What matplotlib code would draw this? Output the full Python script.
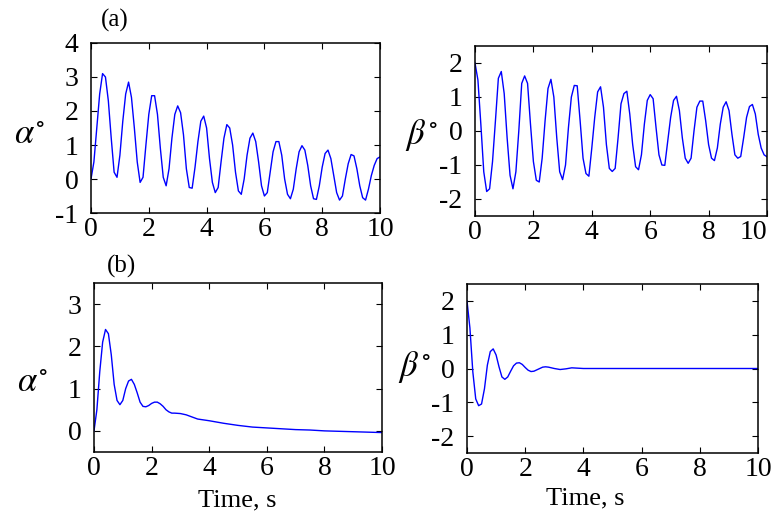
import numpy as np
import matplotlib
matplotlib.use('Agg')
import matplotlib.pyplot as plt

plt.rcParams['font.family'] = ['Liberation Serif', 'DejaVu Serif']
plt.rcParams['mathtext.fontset'] = 'stix'
plt.rcParams['axes.unicode_minus'] = False

# (a) 制御なし  0.1 s 刻み
t_a = [round(0.1 * i, 1) for i in range(101)]
alpha_a = [0.0, 0.5, 1.5, 2.5, 3.1, 3.0, 2.3, 1.2, 0.2, 0.05,
           0.7, 1.7, 2.5, 2.85, 2.4, 1.5, 0.5, -0.1, 0.05, 1.0,
           1.9, 2.45, 2.45, 1.9, 0.9, 0.05, -0.2, 0.3, 1.2, 1.9,
           2.15, 1.95, 1.3, 0.3, -0.25, -0.27, 0.35, 1.1, 1.7, 1.85,
           1.5, 0.6, -0.1, -0.4, -0.25, 0.5, 1.2, 1.6, 1.5, 1.0,
           0.2, -0.35, -0.45, 0.0, 0.7, 1.2, 1.35, 1.1, 0.5, -0.2,
           -0.5, -0.4, 0.2, 0.8, 1.1, 1.1, 0.7, 0.0, -0.45, -0.58,
           -0.3, 0.3, 0.8, 0.98, 0.85, 0.4, -0.2, -0.58, -0.6, -0.2,
           0.35, 0.75, 0.85, 0.6, 0.1, -0.4, -0.62, -0.5, 0.0, 0.45,
           0.72, 0.68, 0.3, -0.2, -0.55, -0.62, -0.3, 0.1, 0.4, 0.6,
           0.65]
beta_a = [2.0, 1.5, 0.2, -1.2, -1.78, -1.7, -0.9, 0.3, 1.55, 1.75,
          1.1, -0.2, -1.3, -1.7, -1.2, 0.0, 1.4, 1.62, 1.4, 0.2,
          -0.9, -1.45, -1.5, -0.8, 0.3, 1.25, 1.52, 1.0, -0.2, -1.2,
          -1.43, -1.0, 0.1, 1.0, 1.34, 1.33, 0.3, -0.8, -1.25, -1.33,
          -0.5, 0.4, 1.15, 1.3, 0.7, -0.4, -1.1, -1.19, -1.1, -0.2,
          0.8, 1.1, 1.17, 0.5, -0.4, -1.05, -1.14, -0.7, 0.2, 0.9,
          1.07, 0.95, 0.1, -0.7, -1.0, -1.01, -0.3, 0.4, 0.9, 1.02,
          0.6, -0.2, -0.8, -0.95, -0.8, 0.0, 0.7, 0.88, 0.88, 0.3,
          -0.4, -0.8, -0.87, -0.5, 0.2, 0.7, 0.86, 0.6, -0.1, -0.7,
          -0.8, -0.75, -0.2, 0.4, 0.72, 0.78, 0.5, -0.1, -0.5, -0.7,
          -0.76]

# (b) 制御あり
t_b_alpha = [0, 0.1, 0.2, 0.3, 0.4, 0.5, 0.6, 0.7, 0.8, 0.9, 1.0, 1.1, 1.2, 1.3,
             1.4, 1.5, 1.6, 1.7, 1.8, 1.9, 2.0, 2.1, 2.2, 2.3, 2.4, 2.5, 2.6,
             2.7, 2.8, 3.0, 3.2, 3.4, 3.6, 3.8, 4.0, 4.5, 5.0, 5.5, 6.0, 6.5,
             7.0, 7.5, 8.0, 8.5, 9.0, 9.5, 10.0]
alpha_b = [0.0, 0.5, 1.4, 2.1, 2.4, 2.3, 1.8, 1.1, 0.72, 0.62, 0.72, 1.0, 1.18,
           1.22, 1.1, 0.9, 0.68, 0.58, 0.57, 0.6, 0.65, 0.68, 0.68, 0.64, 0.58,
           0.5, 0.45, 0.42, 0.42, 0.41, 0.38, 0.33, 0.28, 0.26, 0.24, 0.18,
           0.13, 0.09, 0.07, 0.05, 0.03, 0.02, 0.0, -0.01, -0.02, -0.03, -0.04]
t_b_beta = [0, 0.1, 0.2, 0.3, 0.4, 0.5, 0.6, 0.7, 0.8, 0.9, 1.0, 1.1, 1.2, 1.3,
            1.4, 1.5, 1.6, 1.7, 1.8, 1.9, 2.0, 2.1, 2.2, 2.3, 2.4, 2.5, 2.6,
            2.7, 2.8, 2.9, 3.0, 3.2, 3.4, 3.6, 3.8, 4.0, 5.0, 6.0, 7.0, 8.0,
            9.0, 10.0]
beta_b = [2.0, 1.2, -0.1, -0.9, -1.1, -1.05, -0.6, 0.1, 0.5, 0.58, 0.4, 0.05,
          -0.25, -0.32, -0.25, -0.08, 0.08, 0.16, 0.17, 0.12, 0.03, -0.05,
          -0.09, -0.08, -0.04, 0.0, 0.04, 0.05, 0.04, 0.02, 0.0, -0.03, -0.01,
          0.02, 0.01, 0.0, 0.0, 0.0, 0.0, 0.0, 0.0, 0.0]

W, H = 773, 515
fig = plt.figure(figsize=(W / 100, H / 100), dpi=100)


def px_axes(l, t, r, b):
    return fig.add_axes([l / W, 1 - b / H, (r - l) / W, (b - t) / H])


panels = [
    (px_axes(91, 43, 380, 213), t_a, alpha_a, (-1, 4), range(-1, 5)),
    (px_axes(475, 46, 767, 216), t_a, beta_a, (-2.5, 2.5), range(-2, 3)),
    (px_axes(94, 283, 382, 452), t_b_alpha, alpha_b, (-0.5, 3.5), range(0, 4)),
    (px_axes(467, 284, 758, 453), t_b_beta, beta_b, (-2.5, 2.5), range(-2, 3)),
]

for ax, t, y, ylim, yt in panels:
    ax.plot(t, y, color='#0000ff', lw=1.0)
    ax.set_xlim(0, 10)
    ax.set_ylim(*ylim)
    ax.set_xticks(range(0, 11, 2))
    ax.set_yticks(list(yt))
    ax.tick_params(direction='in', top=True, right=True, length=4, width=0.8,
                   labelsize=20)
    ax.tick_params(axis='x', pad=3)
    ax.tick_params(axis='y', pad=9)
    for s in ax.spines.values():
        s.set_linewidth(1.1)

# 右上の "10" が端で切れないように右寄せ
panels[1][0].get_xticklabels()[-1].set_horizontalalignment('right')

# 軸ラベル
fig.text(29 / W, 1 - 135 / H, r'$\alpha^{\circ}$', fontsize=25, ha='center', va='center')
fig.text(421 / W, 1 - 135 / H, r'$\beta^{\circ}$', fontsize=25, ha='center', va='center')
fig.text(32 / W, 1 - 383 / H, r'$\alpha^{\circ}$', fontsize=25, ha='center', va='center')
fig.text(414 / W, 1 - 367 / H, r'$\beta^{\circ}$', fontsize=25, ha='center', va='center')

fig.text(115 / W, 1 - 20 / H, '(a)', fontsize=18, ha='center', va='center')
fig.text(121 / W, 1 - 266 / H, '(b)', fontsize=18, ha='center', va='center')
fig.text(237 / W, 1 - 500 / H, 'Time, s', fontsize=19, ha='center', va='center')
fig.text(585 / W, 1 - 498 / H, 'Time, s', fontsize=19, ha='center', va='center')

plt.savefig('out.png', dpi=100)
